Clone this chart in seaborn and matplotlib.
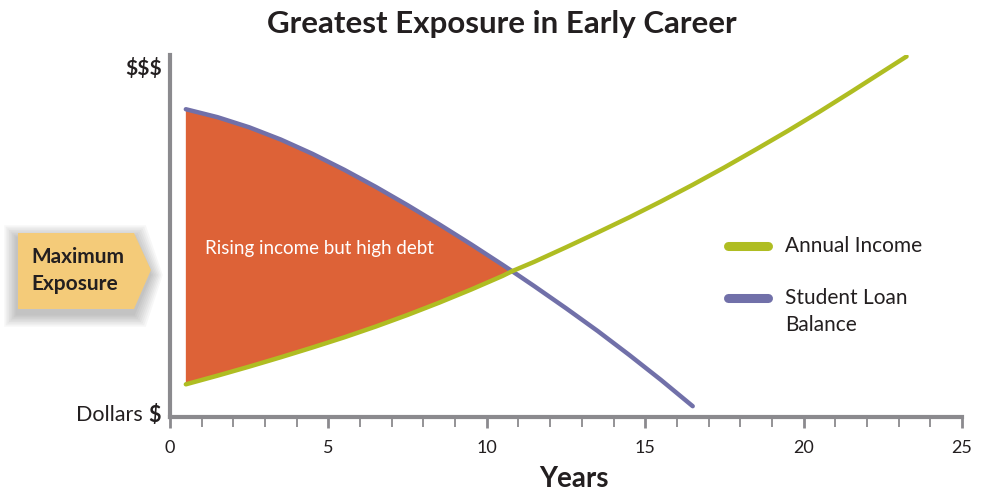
import numpy as np
import pandas as pd
import matplotlib
matplotlib.use("Agg")
import matplotlib.pyplot as plt
from matplotlib.patches import Polygon
import seaborn as sns

# -------------------------------
# Data
# -------------------------------
years_income = [0.5, 1.5, 2.5, 3.5, 4.5, 5.5, 6.5, 7.5, 8.5, 9.5, 10.5, 10.8,
                11.5, 12.5, 13.5, 14.5, 15.5, 16.5, 17.5, 18.5, 19.5, 20.5,
                21.5, 22.5, 23.25]
income = [8.9, 11.3, 13.8, 16.4, 19.1, 21.9, 24.9, 28.1, 31.5, 35.1, 38.9, 40.2,
          42.8, 46.8, 50.9, 55.1, 59.5, 64.1, 68.9, 73.9, 79.0, 84.3,
          89.8, 95.4, 99.6]

years_loan = [0.5, 1.5, 2.5, 3.5, 4.5, 5.5, 6.5, 7.5, 8.5, 9.5, 10.5, 10.8,
              11.5, 12.5, 13.5, 14.5, 15.5, 16.5]
loan = [85.0, 82.8, 80.0, 76.6, 72.65, 68.25, 63.5, 58.45, 53.15, 47.65, 41.95, 40.2,
        36.05, 29.95, 23.65, 17.0, 10.1, 2.85]

crossover_year = 10.8
x_ticks = [0, 5, 10, 15, 20, 25]
series_labels = ["Annual Income", "Student Loan\nBalance"]

GREEN = "#afbd22"
PURPLE = "#7170a9"
ORANGE = "#dd6237"
GRAY = "#8b8a8e"
DARK = "#231f20"

df_income = pd.DataFrame({"year": years_income, "value": income})
df_loan = pd.DataFrame({"year": years_loan, "value": loan})

sns.set_theme(style="white")
plt.rcParams["font.family"] = ["Lato", "DejaVu Sans"]

W, H = 982, 493
fig = plt.figure(figsize=(W / 100, H / 100), dpi=100)
ax = fig.add_axes([170 / W, 1 - 416.5 / H, 792 / W, 361.5 / H])


def fx(px):
    return px / W


def fy(py):
    return 1 - py / H


# -------------------------------
# Shaded exposure region (income up to crossover, loan back down)
# -------------------------------
inc_part = df_income[df_income["year"] <= crossover_year]
loan_part = df_loan[df_loan["year"] <= crossover_year].iloc[::-1]
ax.fill(list(inc_part["year"]) + list(loan_part["year"]),
        list(inc_part["value"]) + list(loan_part["value"]),
        color=ORANGE, linewidth=0, zorder=1)

sns.lineplot(data=df_loan, x="year", y="value", color=PURPLE, linewidth=3.2,
             estimator=None, sort=False, ax=ax, zorder=3,
             solid_capstyle="round", solid_joinstyle="round")
sns.lineplot(data=df_income, x="year", y="value", color=GREEN, linewidth=3.2,
             estimator=None, sort=False, ax=ax, zorder=4,
             solid_capstyle="round", solid_joinstyle="round")

ax.text(1.1, 46.5, "Rising income but high debt", color="white", fontsize=13.5,
        va="center", ha="left", zorder=5)

# -------------------------------
# Axes styling
# -------------------------------
ax.set_xlim(0, 25)
ax.set_ylim(0, 100)
ax.set_xticks(x_ticks)
ax.set_xticks(range(0, 26), minor=True)
ax.set_yticks([])
ax.tick_params(axis="x", which="major", direction="out", length=8, width=2,
               color=GRAY, labelsize=13, labelcolor=DARK, pad=9, bottom=True)
ax.tick_params(axis="x", which="minor", direction="out", length=7, width=1.3,
               color=GRAY, bottom=True)
for s in ["top", "right"]:
    ax.spines[s].set_visible(False)
for s in ["left", "bottom"]:
    ax.spines[s].set_color(GRAY)
    ax.spines[s].set_linewidth(3)
ax.set_xlabel("")
ax.set_ylabel("")
ax.set_facecolor("white")

fig.text(fx(162), fy(68), "$$$", ha="right", va="center",
         fontsize=15, fontweight="bold", color=DARK)
fig.text(fx(143), fy(415), "Dollars", ha="right", va="center",
         fontsize=15.5, color=DARK)
fig.text(fx(161), fy(415), "$", ha="right", va="center",
         fontsize=15.5, fontweight="bold", color=DARK)

# manual legend
legend_y = [246, 298]
legend_colors = [GREEN, PURPLE]
for lab, py, col in zip(series_labels, legend_y, legend_colors):
    fig.add_artist(plt.Line2D([fx(728), fx(768)], [fy(py), fy(py)], color=col,
                              linewidth=6.5, solid_capstyle="round"))
    first, *rest = lab.split("\n")
    fig.text(fx(785), fy(py), first, ha="left", va="center", fontsize=15, color=DARK)
    for k, extra in enumerate(rest, start=1):
        fig.text(fx(785), fy(py + 27 * k), extra, ha="left", va="center",
                 fontsize=15, color=DARK)

# -------------------------------
# Title, x label and badge
# -------------------------------
fig.text(fx(502), fy(24), "Greatest Exposure in Early Career", ha="center", va="center",
         fontsize=22.5, fontweight="bold", color=DARK)
fig.text(fx(574), fy(479), "Years", ha="center", va="center",
         fontsize=20, fontweight="bold", color=DARK)

badge = [(18, 233), (134, 233), (151, 270), (134, 309), (18, 309)]
for i in range(8, 0, -1):
    grow = i * 1.6
    shadow = []
    for x, y in badge:
        sx = x - grow - 1 if x < 100 else x + grow - 1
        sy = y - grow + 5 if y < 270 else (y + grow + 5 if y > 270 else y + 5)
        shadow.append((sx, sy))
    fig.add_artist(Polygon([(fx(a), fy(b)) for a, b in shadow], closed=True,
                           transform=fig.transFigure, facecolor="black",
                           alpha=0.03, linewidth=0))
fig.add_artist(Polygon([(fx(a), fy(b)) for a, b in badge], closed=True,
                       transform=fig.transFigure, facecolor="#f4cb79", linewidth=0))
fig.text(fx(31), fy(257), "Maximum", ha="left", va="center",
         fontsize=15, fontweight="bold", color=DARK)
fig.text(fx(31), fy(284), "Exposure", ha="left", va="center",
         fontsize=15, fontweight="bold", color=DARK)

fig.savefig("out.png", dpi=100, facecolor="white")
